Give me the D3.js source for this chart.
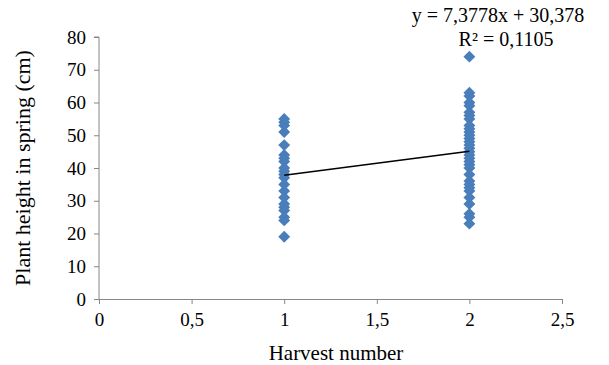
<!DOCTYPE html>
<html lang="en">
<head>
  <meta charset="UTF-8">
  <script src="https://cdn.jsdelivr.net/npm/d3@7"></script>
  <style>
    body { margin: 0; background: #fff; }
    .axis path, .axis line { stroke: #868686; }
  </style>
</head>
<body>
<svg></svg>
<script>
  // harvest 1 and harvest 2 plant heights (cm)
  var harvest1 = [55, 54, 53, 51, 47, 44, 43, 42, 40, 39, 38, 37, 35, 33, 31, 29, 28, 27, 25, 24, 19];
  var harvest2 = [74, 63, 62, 60, 59, 57, 56, 55, 53, 52, 51, 50, 49, 48, 47, 46, 45, 44, 43, 42, 41, 40,
                  38, 36, 35, 34, 33, 31, 29, 26, 25, 23];
  var xTicks = [0, 0.5, 1, 1.5, 2, 2.5];
  var yTicks = [0, 10, 20, 30, 40, 50, 60, 70, 80];
  var slope = 7.3778, intercept = 30.378;
  var eqLines = ["y = 7,3778x + 30,378", "R\u00b2 = 0,1105"];

  var FONT = "Liberation Serif";
  var W = 609, H = 365;
  var margin = {top: 37, right: 47, bottom: 66, left: 99};
  var width = W - margin.left - margin.right,
      height = H - margin.top - margin.bottom;

  var svg = d3.select("svg").attr("width", W).attr("height", H);
  var g = svg.append("g").attr("transform", "translate(" + margin.left + "," + margin.top + ")");

  var x = d3.scaleLinear().domain([0, 2.5]).range([0, width]);
  var y = d3.scaleLinear().domain([0, 80]).range([height, 0]);
  var fmt = function(d) { return String(d).replace(".", ","); };

  g.append("g").attr("class", "axis")
    .call(d3.axisLeft(y).tickValues(yTicks).tickSize(5).tickSizeOuter(5).tickPadding(8))
    .call(function(a) { a.select(".domain").attr("d", "M-5,0H0V" + height); })
    .attr("font-family", FONT).attr("font-size", 19);

  g.append("g").attr("class", "axis")
    .attr("transform", "translate(0," + height + ")")
    .call(d3.axisBottom(x).tickValues(xTicks).tickFormat(fmt).tickSize(5).tickSizeOuter(0).tickPadding(9))
    .attr("font-family", FONT).attr("font-size", 19);

  var points = harvest1.map(function(v) { return {x: 1, y: v}; })
    .concat(harvest2.map(function(v) { return {x: 2, y: v}; }));

  var diamond = d3.symbol().type(d3.symbolDiamond2).size(90);
  g.selectAll(".pt").data(points).enter().append("path")
    .attr("class", "pt")
    .attr("d", diamond)
    .attr("transform", function(d) { return "translate(" + x(d.x) + "," + y(d.y) + ")"; })
    .attr("fill", "#4a7ebb");

  // linear trend line over the data range
  g.append("line")
    .attr("x1", x(1)).attr("y1", y(slope * 1 + intercept))
    .attr("x2", x(2)).attr("y2", y(slope * 2 + intercept))
    .attr("stroke", "#000").attr("stroke-width", 1.5);

  // equation label, second line sits a little to the right
  svg.selectAll(".eq").data(eqLines).enter().append("text")
    .attr("class", "eq")
    .attr("x", function(d, i) { return i ? 506 : 498; })
    .attr("y", function(d, i) { return 22 + i * 24; })
    .attr("text-anchor", "middle")
    .attr("font-family", FONT).attr("font-size", 20)
    .text(function(d) { return d; });

  // axis titles
  svg.append("text")
    .attr("x", 336).attr("y", 360)
    .attr("text-anchor", "middle")
    .attr("font-family", FONT).attr("font-size", 21)
    .text("Harvest number");

  svg.append("text")
    .attr("transform", "translate(30," + (margin.top + height / 2) + ") rotate(-90)")
    .attr("text-anchor", "middle")
    .attr("font-family", FONT).attr("font-size", 22)
    .text("Plant height in spring (cm)");
</script>
</body>
</html>
